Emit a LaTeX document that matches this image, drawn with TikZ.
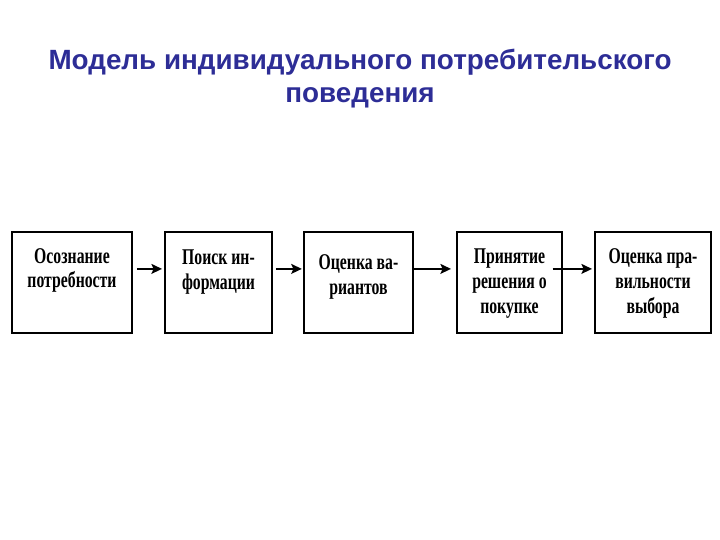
\documentclass[tikz,border=0pt]{standalone}
\usepackage{fontspec}
\setmainfont{Liberation Serif}
\newfontfamily\boxfont[FakeStretch=0.7]{Liberation Serif}
\newfontfamily\titlefont{Liberation Sans}
\usepackage{xcolor}
\usetikzlibrary{
    arrows.meta,
    calc,
    positioning
}
\definecolor{titleblue}{RGB}{45,45,150}
\tikzset{
    box/.style={draw, line width=1.4pt, minimum height=2.525cm, inner sep=0pt},
    txt/.style={font=\boxfont\bfseries\fontsize{16}{17.7}\selectfont, align=center, inner sep=0pt},
    arr/.style={-{Stealth[length=7.5pt, width=7pt, inset=1.5pt]}, line width=1.4pt}
}

\begin{document}
\begin{tikzpicture}
                        \useasboundingbox (0, 0) rectangle (18, -13.5);
                        \node[font=\titlefont\bfseries\fontsize{19.8}{23}\selectfont, text=titleblue, align=center] (title) at (9, -1.96) {Модель индивидуального потребительского\\поведения};

                        \node[box, minimum width=3cm] (b1) at (1.8, -7.0625) {};
                        \node[box, minimum width=2.675cm] (b2) at (5.4625, -7.0625) {};
                        \node[box, minimum width=2.725cm] (b3) at (8.9625, -7.0625) {};
                        \node[box, minimum width=2.625cm] (b4) at (12.7375, -7.0625) {};
                        \node[box, minimum width=2.9cm] (b5) at (16.325, -7.0625) {};

                        \node[txt] (t1) at (1.8, -6.76) {Осознание\\потребности};
                        \node[txt] (t2) at (5.4625, -6.8) {Поиск ин-\\формации};
                        \node[txt] (t3) at (8.9625, -6.925) {Оценка ва-\\риантов};
                        \node[txt] (t4) at (12.7375, -7.09) {Принятие\\решения о\\покупке};
                        \node[txt] (t5) at (16.325, -7.09) {Оценка пра-\\вильности\\выбора};

                        \draw[arr, shorten <=0.1cm, shorten >=0.05cm] ([yshift=0.34cm]b1.east) -- ([yshift=0.34cm]b2.west);
                        \draw[arr, shorten <=0.07cm, shorten >=0.03cm] ([yshift=0.34cm]b2.east) -- ([yshift=0.34cm]b3.west);
                        \draw[arr, shorten >=0.125cm] ([yshift=0.34cm]b3.east) -- ([yshift=0.34cm]b4.west);
                        \draw[arr, shorten <=-0.26cm, shorten >=0.05cm] ([yshift=0.34cm]b4.east) -- ([yshift=0.34cm]b5.west);
\end{tikzpicture}
\end{document}
